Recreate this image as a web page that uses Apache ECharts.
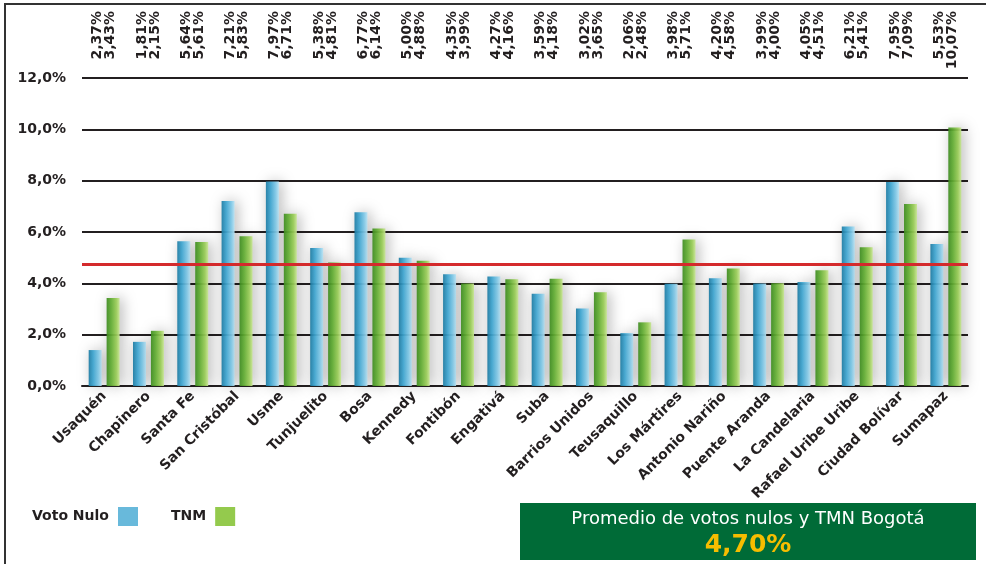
<!DOCTYPE html>
<html>
<head>
<meta charset="utf-8">
<script src="https://cdn.jsdelivr.net/npm/echarts@6/dist/echarts.min.js"></script>
<style>
  html, body { margin: 0; padding: 0; background: #ffffff; }
  #chart { width: 986px; height: 564px; }
</style>
</head>
<body>
<div id="chart"></div>
<script>
// Categories (localidades de Bogotá)
const categories = ['Usaquén', 'Chapinero', 'Santa Fe', 'San Cristóbal', 'Usme', 'Tunjuelito', 'Bosa',
  'Kennedy', 'Fontibón', 'Engativá', 'Suba', 'Barrios Unidos', 'Teusaquillo', 'Los Mártires',
  'Antonio Nariño', 'Puente Aranda', 'La Candelaria', 'Rafael Uribe Uribe', 'Ciudad Bolívar', 'Sumapaz'];

// Bar heights as drawn in the picture (%)
const votoNulo = [1.40, 1.72, 5.64, 7.21, 7.97, 5.38, 6.77, 5.00, 4.35, 4.27, 3.59, 3.02, 2.06, 3.98, 4.20, 3.99, 4.05, 6.21, 7.95, 5.53];
const tnm = [3.43, 2.15, 5.61, 5.83, 6.71, 4.81, 6.14, 4.88, 3.99, 4.16, 4.18, 3.65, 2.48, 5.71, 4.58, 4.00, 4.51, 5.41, 7.09, 10.07];

// Printed labels along the top (%)
const labelNulo = [2.37, 1.81, 5.64, 7.21, 7.97, 5.38, 6.77, 5.00, 4.35, 4.27, 3.59, 3.02, 2.06, 3.98, 4.20, 3.99, 4.05, 6.21, 7.95, 5.53];
const labelTnm = [3.43, 2.15, 5.61, 5.83, 6.71, 4.81, 6.14, 4.88, 3.99, 4.16, 4.18, 3.65, 2.48, 5.71, 4.58, 4.00, 4.51, 5.41, 7.09, 10.07];

// Average reference line and box text
const promedioLine = 4.74;
const promedioText = '4,70%';
const promedioTitle = 'Promedio de votos nulos y TMN Bogotá';

// Y-axis ticks
const yMin = 0, yMax = 12, yStep = 2;

const fmt = v => v.toFixed(2).replace('.', ',') + '%';
const topLabels = categories.map((c, i) => fmt(labelNulo[i]) + '\n' + fmt(labelTnm[i]));

const FONT = 'DejaVu Sans';
const DARK = '#231f20';

const blueGrad = new echarts.graphic.LinearGradient(0, 0, 1, 0, [
  { offset: 0, color: '#1d7ca4' },
  { offset: 0.35, color: '#3da4cf' },
  { offset: 0.75, color: '#80c9e8' },
  { offset: 1, color: '#b9e3f4' }
]);
const greenGrad = new echarts.graphic.LinearGradient(0, 0, 1, 0, [
  { offset: 0, color: '#3e8c20' },
  { offset: 0.35, color: '#62ad33' },
  { offset: 0.75, color: '#9acd58' },
  { offset: 1, color: '#c8e695' }
]);

const chart = echarts.init(document.getElementById('chart'), null, { renderer: 'canvas' });

chart.setOption({
  animation: false,
  backgroundColor: '#ffffff',
  grid: { left: 82, right: 18, top: 78, bottom: 178, containLabel: false },
  legend: {
    left: 27,
    top: 502,
    align: 'right',
    icon: 'rect',
    itemWidth: 20,
    itemHeight: 19,
    itemGap: 33,
    textStyle: { fontFamily: FONT, fontWeight: 'bold', fontSize: 14, color: DARK, padding: [0, 4, 0, 0] },
    data: [
      { name: 'Voto Nulo', itemStyle: { color: '#5db4d8' } },
      { name: 'TNM', itemStyle: { color: '#8cc63f' } }
    ]
  },
  xAxis: [
    {
      type: 'category',
      data: categories,
      position: 'bottom',
      axisLine: { show: true, lineStyle: { color: DARK, width: 2 } },
      axisTick: { show: false },
      axisLabel: {
        rotate: 45,
        interval: 0,
        margin: 8,
        fontFamily: FONT,
        fontWeight: 'bold',
        fontSize: 14,
        color: DARK
      }
    },
    {
      type: 'category',
      data: topLabels,
      position: 'top',
      axisLine: { show: false },
      axisTick: { show: false },
      splitLine: { show: false },
      axisLabel: {
        rotate: -90,
        interval: 0,
        margin: 67,
        align: 'right',
        verticalAlign: 'middle',
        fontFamily: FONT,
        fontWeight: 'bold',
        fontSize: 14,
        lineHeight: 13,
        color: DARK
      }
    }
  ],
  yAxis: {
    type: 'value',
    min: yMin,
    max: yMax,
    interval: yStep,
    axisLine: { show: false },
    axisTick: { show: false },
    axisLabel: {
      margin: 16,
      fontFamily: FONT,
      fontWeight: 'bold',
      fontSize: 14,
      color: DARK,
      formatter: v => v.toFixed(1).replace('.', ',') + '%'
    },
    splitLine: { show: true, lineStyle: { color: DARK, width: 2 } }
  },
  series: [
    {
      name: 'Voto Nulo',
      type: 'bar',
      xAxisIndex: 0,
      data: votoNulo,
      barWidth: 13,
      barGap: '38%',
      itemStyle: {
        color: blueGrad,
        opacity: 0.93,
        shadowColor: 'rgba(0,0,0,0.3)',
        shadowBlur: 14,
        shadowOffsetX: 3
      },
      markLine: {
        silent: true,
        symbol: ['none', 'none'],
        label: { show: false },
        lineStyle: { color: '#d42a2c', width: 3, type: 'solid' },
        data: [{ yAxis: promedioLine }]
      }
    },
    {
      name: 'TNM',
      type: 'bar',
      xAxisIndex: 0,
      data: tnm,
      barWidth: 13,
      itemStyle: {
        color: greenGrad,
        opacity: 0.93,
        shadowColor: 'rgba(0,0,0,0.3)',
        shadowBlur: 14,
        shadowOffsetX: 3
      }
    }
  ],
  graphic: [
    { type: 'line', shape: { x1: 5, y1: 3, x2: 5, y2: 564 }, style: { stroke: '#333333', lineWidth: 2 } },
    { type: 'line', shape: { x1: 4, y1: 4, x2: 986, y2: 4 }, style: { stroke: '#333333', lineWidth: 2 } },
    {
      type: 'group',
      left: 520,
      top: 503,
      children: [
        { type: 'rect', shape: { x: 0, y: 0, width: 456, height: 57 }, style: { fill: '#006b37' } },
        {
          type: 'text', x: 228, y: 16,
          style: { text: promedioTitle, fill: '#ffffff', font: '18px "DejaVu Sans"', align: 'center', verticalAlign: 'middle' }
        },
        {
          type: 'text', x: 228, y: 42,
          style: { text: promedioText, fill: '#f6bd00', font: 'bold 25px "DejaVu Sans"', align: 'center', verticalAlign: 'middle' }
        }
      ]
    }
  ]
});
</script>
</body>
</html>
